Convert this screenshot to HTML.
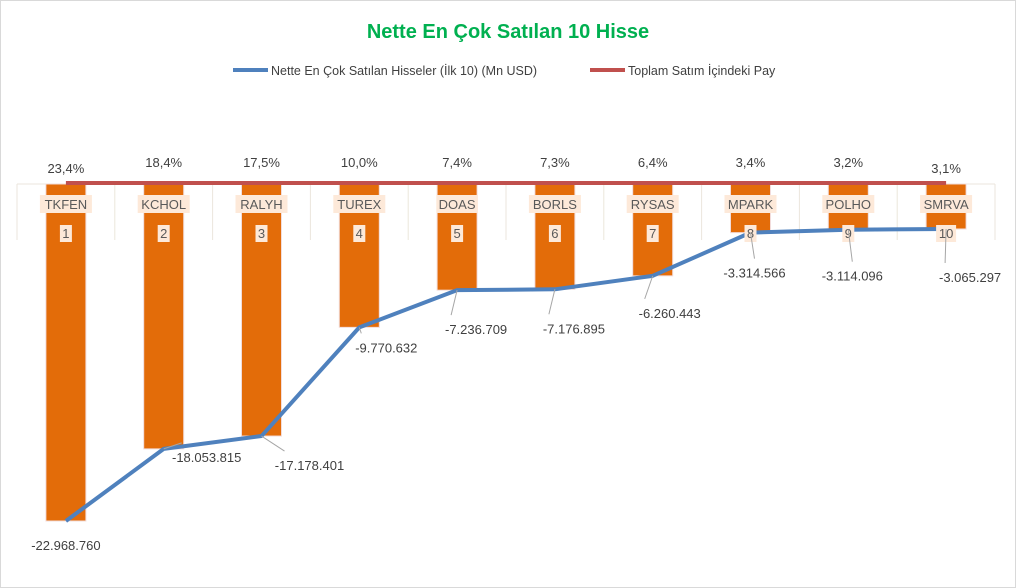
<!DOCTYPE html>
<html><head><meta charset="utf-8"><style>
html,body{margin:0;padding:0;background:#fff;}
svg{display:block;font-family:"Liberation Sans",Arial,sans-serif;}
</style></head><body>
<svg id="c" width="1016" height="588" viewBox="0 0 1016 588" xmlns="http://www.w3.org/2000/svg">
<rect x="0.5" y="0.5" width="1015" height="587" fill="#fff" stroke="#d9d9d9"/>
<text x="508" y="38" text-anchor="middle" font-size="20" font-weight="bold" fill="#00b050">Nette En Çok Satılan 10 Hisse</text>
<g>
<line x1="233" y1="70" x2="268" y2="70" stroke="#4f81bd" stroke-width="4"/>
<text x="271" y="75" font-size="12.5" fill="#404040">Nette En Çok Satılan Hisseler (İlk 10) (Mn USD)</text>
<line x1="590" y1="70" x2="625" y2="70" stroke="#c0504d" stroke-width="4"/>
<text x="628" y="75" font-size="12.5" fill="#404040">Toplam Satım İçindeki Pay</text>
</g>
<g id="grid"></g><g id="bars"></g><g id="lines"></g><g id="labels"></g>
</svg>
<script>
const categories=["TKFEN","KCHOL","RALYH","TUREX","DOAS","BORLS","RYSAS","MPARK","POLHO","SMRVA"];
const values=[-22968760,-18053815,-17178401,-9770632,-7236709,-7176895,-6260443,-3314566,-3114096,-3065297];
const valueLabels=["-22.968.760","-18.053.815","-17.178.401","-9.770.632","-7.236.709","-7.176.895","-6.260.443","-3.314.566","-3.114.096","-3.065.297"];
const shares=["23,4%","18,4%","17,5%","10,0%","7,4%","7,3%","6,4%","3,4%","3,2%","3,1%"];
const ranks=["1","2","3","4","5","6","7","8","9","10"];
const NS="http://www.w3.org/2000/svg";
const x0=17,step=97.8,y0=184,pxPerUnit=337/22968760;
const xc=i=>x0+step*(i+0.5);
const y=v=>y0-v*pxPerUnit;
function mk(t,a,p){const e=document.createElementNS(NS,t);for(const k in a)e.setAttribute(k,a[k]);p.appendChild(e);return e;}
const G=document.getElementById('grid'),B=document.getElementById('bars'),L=document.getElementById('lines'),T=document.getElementById('labels');
for(let i=0;i<=categories.length;i++){const g=mk('line',{x1:x0+step*i,y1:y0,x2:x0+step*i,y2:240,stroke:'#ebe6dc'},G);

}
const hz=mk('line',{x1:x0,y1:y0,x2:x0+step*10,y2:y0,stroke:'#ebe6dc'},G);


const offs=[[0,24],[43,8],[48,29],[27,20],[19,39],[19,39],[17,37],[4,40],[4,46],[24,48]];
values.forEach((v,i)=>{
const r=mk('rect',{x:xc(i)-20,y:y0,width:40,height:y(v)-y0,fill:'#e36c09',stroke:'#f2dcdb','stroke-width':1},B);


});
let pts=values.map((v,i)=>xc(i)+','+y(v)).join(' ');
const pl=mk('polyline',{points:pts,fill:'none',stroke:'#4f81bd','stroke-width':4,'stroke-linejoin':'round'},L);


const rl=mk('line',{x1:xc(0),y1:183,x2:xc(9),y2:183,stroke:'#c0504d','stroke-width':4},L);


categories.forEach((c,i)=>{
const cx=xc(i);
const bg=mk('rect',{x:cx-c.length*5.2,y:195,width:c.length*10.4,height:18,fill:'#fde9d9'},T);


const t=mk('text',{x:cx,y:209,'text-anchor':'middle','font-size':13,fill:'#595959'},T);t.textContent=c;


const w=ranks[i].length*8+4;
const rb=mk('rect',{x:cx-w/2,y:225,width:w,height:17,fill:'#fde9d9'},T);


const rt=mk('text',{x:cx,y:238,'text-anchor':'middle','font-size':13,fill:'#595959'},T);rt.textContent=ranks[i];


const st=mk('text',{x:cx,y:i==0||i==9?173:167,'text-anchor':'middle','font-size':13,fill:'#404040'},T);st.textContent=shares[i];


const py=y(values[i]),lx=cx+offs[i][0],ly=py+offs[i][1];
if(Math.hypot(offs[i][0],offs[i][1])>30){const ld=mk('line',{x1:cx,y1:py,x2:lx-(offs[i][0]>10?25:0),y2:ly-14,stroke:'#a6a6a6'},T);

}
const vt=mk('text',{x:lx,y:ly+5,'text-anchor':'middle','font-size':13,fill:'#404040'},T);vt.textContent=valueLabels[i];


});
</script>
</body></html>
